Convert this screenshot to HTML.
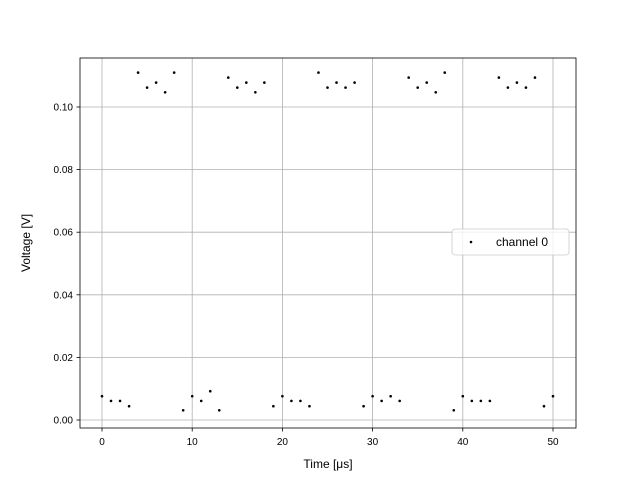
<!DOCTYPE html>
<html><head><meta charset="utf-8"><style>
body{margin:0;background:#fff;}
svg{font-family:"Liberation Sans","DejaVu Sans",sans-serif;}
</style></head><body>
<svg id="chart" width="640" height="480"></svg>
<script>
const xValues=[0,1,2,3,4,5,6,7,8,9,10,11,12,13,14,15,16,17,18,19,20,21,22,23,24,25,26,27,28,29,30,31,32,33,34,35,36,37,38,39,40,41,42,43,44,45,46,47,48,49,50];
const yValues=[0.0076,0.0061,0.0061,0.0044,0.111,0.1062,0.1078,0.1047,0.111,0.0031,
0.0076,0.0061,0.0092,0.0031,0.1094,0.1062,0.1078,0.1047,0.1078,0.0044,
0.0076,0.0061,0.0061,0.0044,0.111,0.1062,0.1078,0.1062,0.1078,0.0044,
0.0076,0.0061,0.0076,0.0061,0.1094,0.1062,0.1078,0.1047,0.111,0.0031,
0.0076,0.0061,0.0061,0.0061,0.1094,0.1062,0.1078,0.1062,0.1094,0.0044,0.0076];
const xTicks=[0,10,20,30,40,50];
const yTicks=[0,0.02,0.04,0.06,0.08,0.10];
const yTickLabels=["0.00","0.02","0.04","0.06","0.08","0.10"];
const NS="http://www.w3.org/2000/svg";
const svg=document.getElementById('chart');
const L=80,R=576,T=58,B=428;
const sx=v=>102+(v-0)*(553-102)/50;
const sy=v=>420-v*(420-107)/0.1;
function mk(tag,attrs,parent){const e=document.createElementNS(NS,tag);for(const k in attrs)e.setAttribute(k,attrs[k]);(parent||svg).appendChild(e);return e;}
const grid=mk('g',{});


xTicks.forEach(t=>{const x=sx(t);
 mk('line',{x1:x,x2:x,y1:T,y2:B,stroke:'#b0b0b0','stroke-width':0.8},grid);
 mk('line',{x1:x,x2:x,y1:B,y2:B+3.5,stroke:'#000','stroke-width':0.8});
 const tx=mk('text',{x:x,y:B+17,'font-size':10,'text-anchor':'middle',fill:'#000'});tx.textContent=t;
 
 
});
yTicks.forEach((t,i)=>{const y=sy(t);
 mk('line',{x1:L,x2:R,y1:y,y2:y,stroke:'#b0b0b0','stroke-width':0.8},grid);
 mk('line',{x1:L-3.5,x2:L,y1:y,y2:y,stroke:'#000','stroke-width':0.8});
 const tx=mk('text',{x:L-7,y:y+3.5,'font-size':10,'text-anchor':'end',fill:'#000'});tx.textContent=yTickLabels[i];
 
 
});
const pts=mk('g',{});


xValues.forEach((x,i)=>{const c=mk('circle',{cx:sx(x),cy:sy(yValues[i]),r:1.3,fill:'#000'},pts);
 
 
});
const frame=mk('rect',{x:L,y:T,width:R-L,height:B-T,fill:'none',stroke:'#000','stroke-width':0.8});


const xl=mk('text',{x:(L+R)/2,y:468,'font-size':12,'text-anchor':'middle',fill:'#000'});
xl.textContent='Time [μs]';


const yl=mk('text',{x:0,y:0,'font-size':12,'text-anchor':'middle',fill:'#000',transform:'translate(30,'+((T+B)/2)+') rotate(-90)'});
yl.textContent='Voltage [V]';


const lg=mk('g',{});


mk('rect',{x:452,y:229,width:117,height:26,rx:3,fill:'#fff','fill-opacity':0.8,stroke:'#ccc','stroke-width':0.8},lg);
mk('circle',{cx:471,cy:242,r:1.3,fill:'#000'},lg);
const lt=mk('text',{x:496,y:246,'font-size':12,fill:'#000'},lg);
lt.textContent='channel 0';


</script>
</body></html>
